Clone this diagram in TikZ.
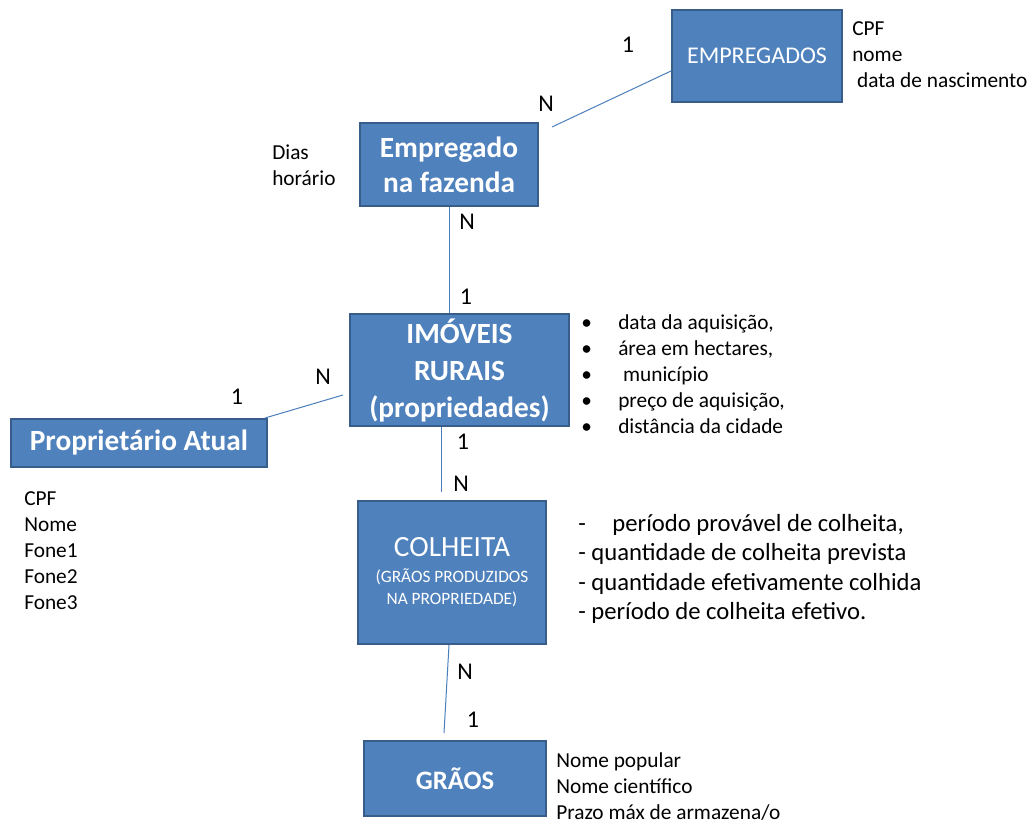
\documentclass[tikz,border=0pt]{standalone}
\usepackage{fontspec}
\setmainfont{Carlito}
\usepackage{tikz}
\usetikzlibrary{calc}
\usetikzlibrary{positioning}

\definecolor{boxfill}{HTML}{4F81BD}
\definecolor{boxline}{HTML}{385D8A}
\definecolor{relline}{HTML}{4A7EBB}

\newcommand{\itembul}{\makebox[27.75pt][l]{•}}

\tikzset{
	entity/.style={rectangle, draw=boxline, line width=1.5pt, fill=boxfill, text=white, align=center, inner sep=0pt, anchor=north west},
	attr/.style={anchor=north west, inner sep=0pt, align=left, font=\fontsize{16}{19.5}\selectfont},
	card/.style={inner sep=0pt, font=\fontsize{18}{22}\selectfont},
	rel/.style={draw=relline, line width=0.75pt}
}

\begin{document}
\begin{tikzpicture}[x=0.75pt, y=-0.75pt]

\useasboundingbox (0,0) rectangle (1036,823);

%% entities
\node at (671,9) [entity, minimum width=127.5pt, minimum height=69pt, font=\fontsize{18}{22}\selectfont] (empregados) {EMPREGADOS};
\node at (359,122) [entity, minimum width=133.5pt, minimum height=62.25pt, font=\bfseries\fontsize{22}{26.25}\selectfont] (fazenda) {Empregado\\na fazenda};
\node at (349,313) [entity, minimum width=164.25pt, minimum height=84pt, font=\bfseries\fontsize{22}{27.75}\selectfont] (imoveis) {IMÓVEIS\\RURAIS\\(propriedades)};
\node at (10,418) [entity, minimum width=192pt, minimum height=36pt, font=\bfseries\fontsize{22}{26}\selectfont] (proprietario) {Proprietário Atual};
\node at (357,500) [entity, minimum width=141pt, minimum height=107.25pt, font=\fontsize{22}{24}\selectfont] (colheita) {COLHEITA\\[-4.7pt]{\fontsize{13}{16}\selectfont (GRÃOS PRODUZIDOS}\\[-7.5pt]{\fontsize{13}{16}\selectfont NA PROPRIEDADE)}};
\node at (363,740) [entity, minimum width=136.5pt, minimum height=56.25pt, font=\bfseries\fontsize{20}{24}\selectfont] (graos) {GRÃOS};

%% attributes
\node at (852,21) [attr] (empattr) {CPF\\nome\\~data de nascimento};
\node at (272,145) [attr] (fazattr) {Dias\\horário};
\node at (581,314) [attr] (imoattr) {\itembul data da aquisição,\\\itembul área em hectares,\\\itembul ~município\\\itembul preço de aquisição,\\\itembul distância da cidade};
\node at (24,491) [attr] (propattr) {CPF\\Nome\\Fone1\\Fone2\\Fone3};
\node at (578,514) [attr, font=\fontsize{18.5}{22}\selectfont] (colattr) {-\hspace{20pt}período provável de colheita,\\- quantidade de colheita prevista\\- quantidade efetivamente colhida\\- período de colheita efetivo.};
\node at (556,752) [attr] (graosattr) {Nome popular\\Nome científico\\Prazo máx de armazena/o};

%% relationships
\coordinate (empN) at (552,127);
\coordinate (imoL) at (343,395);
\coordinate (colN) at (441,492);
\coordinate (graosN) at (444,733);

\draw [rel] ([yshift=-11.25pt]empregados.west) -- (empN);
\draw [rel] (fazenda.south) -- (fazenda.south |- imoveis.north);
\draw [rel] (imoL) -- ([xshift=-2.25pt]proprietario.north east);
\draw [rel] (colN |- imoveis.south) -- (colN);
\draw [rel] ([xshift=-2.25pt]colheita.south) -- (graosN);

%% cardinalities
\node at (628,45) [card] (c1) {1};
\node at (546,104) [card] (c2) {N};
\node at (467,222) [card] (c3) {N};
\node at (466,297) [card] (c4) {1};
\node at (323,377) [card] (c5) {N};
\node at (237,397) [card] (c6) {1};
\node at (463,442) [card] (c7) {1};
\node at (461,484) [card] (c8) {N};
\node at (465,672) [card] (c9) {N};
\node at (473,720) [card] (c10) {1};

\end{tikzpicture}
\end{document}
